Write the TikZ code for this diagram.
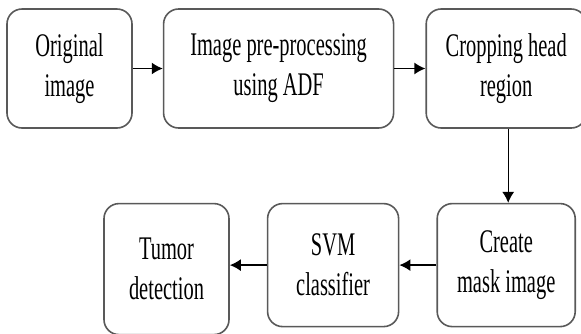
\documentclass[tikz,border=0pt]{standalone}
\usepackage{fontspec}
\newfontfamily\boxfont{Liberation Serif}[FakeStretch=0.62]
\usetikzlibrary{positioning}
\usetikzlibrary{arrows.meta}
\tikzset{
	stage/.style={draw=black!65, line width=1.6pt, rectangle, rounded corners=15pt, align=center, inner sep=0pt, minimum height=119pt, font=\boxfont\fontsize{33}{40}\selectfont},
	flow/.style={black, line width=1.5pt, -{Latex[length=11pt, width=12pt]}},
}

\begin{document}
\begin{tikzpicture}
	\useasboundingbox (0,0) rectangle (581pt,-333pt);
	
	\node (orig) [stage, minimum width=125pt] at (69.5pt,-68.5pt) {Original\\image};
	\node (prep) [stage, minimum width=230pt, right=30pt of orig] {Image pre-processing\\using ADF};
	\node (crop) [stage, minimum width=160pt, right=31pt of prep] {Cropping head\\region};
	
	\node (mask) [stage, minimum width=138pt, minimum height=123pt, below=74pt of crop] {Create\\mask image};
	\node (svm) [stage, minimum width=131pt, minimum height=123pt, left=37pt of mask] {SVM\\classifier};
	\node (tumor) [stage, minimum width=125pt, minimum height=131pt, left=37pt of svm.north west, anchor=north east] {Tumor\\detection};
	
	\begin{scope}[flow]
		\draw (orig) -- (prep);
		\draw (prep) -- (crop);
		\draw[line width=1pt] ([xshift=2pt]crop.south) -- ([xshift=2pt]crop.south |- mask.north);
		\draw (mask) -- (svm);
		\draw (svm.west) -- (svm.west -| tumor.east);
	\end{scope}
	
\end{tikzpicture}
\end{document}
